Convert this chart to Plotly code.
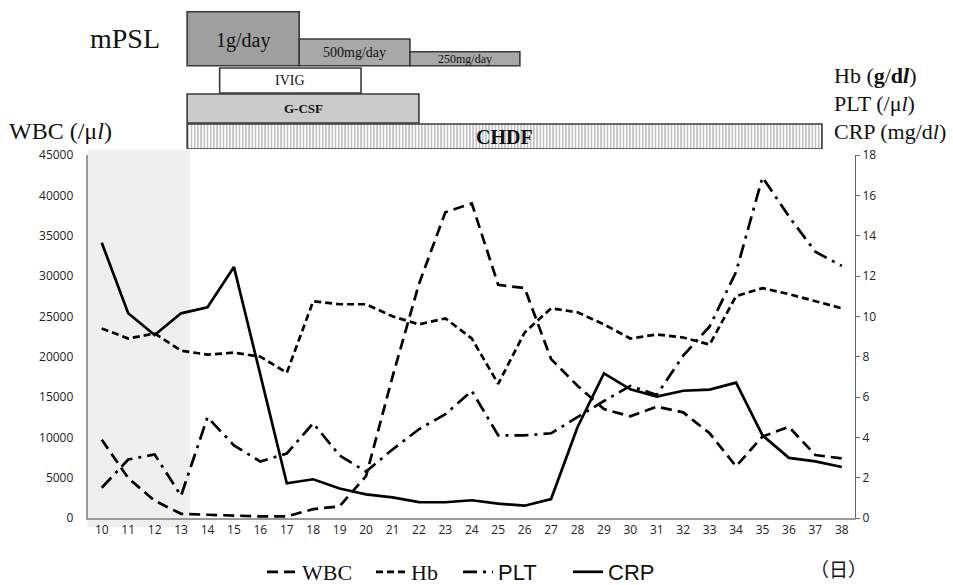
import plotly.graph_objects as go

# ---------------- data ----------------
days = list(range(10, 39))

wbc = [9700, 4950, 2150, 520, 400, 300, 200, 200, 1100, 1450, 5200, 17500, 29000, 37900,
       39000, 28900, 28500, 19700, 16400, 13500, 12600, 13800, 13100, 10500, 6400, 10100,
       11300, 7800, 7400]
hb = [9.4, 8.9, 9.15, 8.3, 8.1, 8.2, 8.0, 7.2, 10.75, 10.6, 10.6, 10.0, 9.6, 9.9, 8.9,
      6.65, 9.2, 10.4, 10.2, 9.6, 8.9, 9.1, 8.95, 8.6, 11.0, 11.4, 11.1, 10.75, 10.4]
plt_ = [1.5, 2.9, 3.15, 1.1, 5.0, 3.6, 2.8, 3.2, 4.7, 3.1, 2.3, 3.4, 4.4, 5.15, 6.3, 4.1,
        4.1, 4.2, 5.0, 5.8, 6.55, 6.1, 8.05, 9.5, 12.2, 16.9, 14.95, 13.2, 12.5]
crp = [13.65, 10.15, 9.07, 10.15, 10.45, 12.45, 7.1, 1.72, 1.92, 1.46, 1.17, 1.02, 0.79,
       0.78, 0.88, 0.71, 0.61, 0.94, 4.5, 7.17, 6.38, 6.02, 6.31, 6.37, 6.71, 4.1, 2.98,
       2.81, 2.53]

treat_labels = ["1g/day", "500mg/day", "250mg/day", "IVIG", "G-CSF", "CHDF"]
treat_start = [13.23, 17.47, 21.66, 14.46, 13.23, 13.23]
treat_end = [17.47, 21.66, 25.82, 19.81, 22.0, 37.25]

# ---------------- layout helpers (pixels -> paper, no margins) ----------------
W, H = 953, 585
L, R, TOP, BOT = 87.5, 855, 155, 518


def px_x(px):
    return px / W


def px_y(py):
    return (H - py) / H


# treatment bar rows (y3 units = pixels above y=149)
row_center = [110.3, 96.65, 90.3, 68.5, 40.5, 12.5]
row_width = [54, 26.7, 14, 25, 29, 25]
row_fill = ["#9f9f9f", "#a8a8a8", "#a8a8a8", "#ffffff", "#cbcbcb", "#ffffff"]
label_size = [20, 14, 12, 14, 13, 20]
label_bold = [False, False, False, False, True, True]
label_dy = [-1.5, 0, -0.5, 0, 0, 0]

serif = "Liberation Serif"
sans = "Liberation Sans"

fig = go.Figure()

# shaded period
fig.add_shape(type="rect", xref="x", yref="paper", x0=9.44, x1=13.34,
              y0=px_y(527), y1=px_y(150), fillcolor="#efefef", line_width=0,
              layer="below")

line_w = 2.7
fig.add_trace(go.Scatter(x=days, y=wbc, mode="lines", yaxis="y", legendwidth=64,
                         name=f'<span style="font-family:{serif}">WBC</span>',
                         line=dict(color="black", width=line_w, dash="11px,6px")))
fig.add_trace(go.Scatter(x=days, y=hb, mode="lines", yaxis="y2", legendwidth=42,
                         name=f'<span style="font-family:{serif}">Hb</span>',
                         line=dict(color="black", width=line_w, dash="7px,4px")))
fig.add_trace(go.Scatter(x=days, y=plt_, mode="lines", yaxis="y2", legendwidth=65,
                         name=f'<span style="font-family:{sans}">PLT</span>',
                         line=dict(color="black", width=line_w, dash="14px,6px,3px,6px")))
fig.add_trace(go.Scatter(x=days, y=crp, mode="lines", yaxis="y2", legendwidth=52,
                         name=f'<span style="font-family:{sans}">CRP</span>',
                         line=dict(color="black", width=line_w)))

# treatment bars
n_plain = 5
fig.add_trace(go.Bar(
    orientation="h", yaxis="y3", xaxis="x",
    base=treat_start[:n_plain],
    x=[e - s for s, e in zip(treat_start[:n_plain], treat_end[:n_plain])],
    y=row_center[:n_plain], width=row_width[:n_plain],
    marker=dict(color=row_fill[:n_plain], line=dict(color="#3a3a3a", width=1.6)),
    showlegend=False, hoverinfo="skip"))
fig.add_trace(go.Bar(
    orientation="h", yaxis="y3", xaxis="x",
    base=treat_start[n_plain:],
    x=[e - s for s, e in zip(treat_start[n_plain:], treat_end[n_plain:])],
    y=row_center[n_plain:], width=row_width[n_plain:],
    marker=dict(color="white", line=dict(color="#3a3a3a", width=1.6),
                pattern=dict(shape="|", fgcolor="#555555", bgcolor="white",
                             size=3.2, solidity=0.35)),
    showlegend=False, hoverinfo="skip"))

annotations = []
for lab, s, e, yc, fs, bold, dy in zip(treat_labels, treat_start, treat_end, row_center,
                                       label_size, label_bold, label_dy):
    txt = f"<b>{lab}</b>" if bold else lab
    annotations.append(dict(x=(s + e) / 2, y=yc + dy, xref="x", yref="y3", text=txt,
                            showarrow=False, font=dict(family=serif, size=fs, color="#111"),
                            xanchor="center", yanchor="middle"))


def txt_ann(x, y, text, size, xanchor="center", family=serif):
    return dict(x=px_x(x), y=px_y(y), xref="paper", yref="paper", text=text,
                xanchor=xanchor, yanchor="middle", showarrow=False,
                font=dict(family=family, size=size, color="#111"))


annotations += [
    txt_ann(125, 39, "mPSL", 28),
    txt_ann(7, 131, "WBC (/μ<i>l</i>)", 24, "left"),
    txt_ann(832, 76, "Hb (<b>g</b>/<b>d<i>l</i></b>)", 22, "left"),
    txt_ann(832, 103, "PLT (/μ<i>l</i>)", 22, "left"),
    txt_ann(832, 131, "CRP (mg/d<i>l</i>)", 22, "left"),
    txt_ann(838, 568, "（日）", 19, "center", "Noto Sans CJK JP"),
]

tickfont = dict(family="Open Sans", size=12, color="#222")

fig.update_layout(
    width=W, height=H,
    margin=dict(l=0, r=0, t=0, b=0, autoexpand=False),
    paper_bgcolor="white", plot_bgcolor="rgba(0,0,0,0)",
    barmode="overlay",
    showlegend=True,
    legend=dict(orientation="h", x=px_x(262), y=px_y(572), xanchor="left",
                yanchor="middle", font=dict(size=22, color="#111"), itemwidth=30,
                bgcolor="rgba(0,0,0,0)"),
    xaxis=dict(domain=[px_x(L), px_x(R)], range=[9.46, 38.5], tickmode="array",
               tickvals=days, showline=True, linecolor="#999", linewidth=1.5,
               showgrid=False, zeroline=False, ticks="", tickfont=tickfont,
               anchor="y", automargin=False),
    yaxis=dict(domain=[px_y(BOT), px_y(TOP)], range=[0, 45000], dtick=5000,
               tickformat="d", showline=True, linecolor="#999", linewidth=1.5,
               showgrid=False, zeroline=False, ticks="", ticklabelstandoff=10,
               tickfont=tickfont, automargin=False),
    yaxis2=dict(overlaying="y", side="right", range=[0, 18], dtick=2, showline=True,
                linecolor="#666", linewidth=1.2, showgrid=False, zeroline=False,
                ticks="outside", ticklen=4, tickcolor="#666", anchor="x",
                tickfont=tickfont, automargin=False),
    yaxis3=dict(domain=[px_y(149), px_y(10)], range=[0, 139], visible=False,
                anchor="x", fixedrange=True),
    annotations=annotations,
)

fig.write_html("out.html", config={"displayModeBar": False},
               post_script="document.body.style.margin='0px';")
